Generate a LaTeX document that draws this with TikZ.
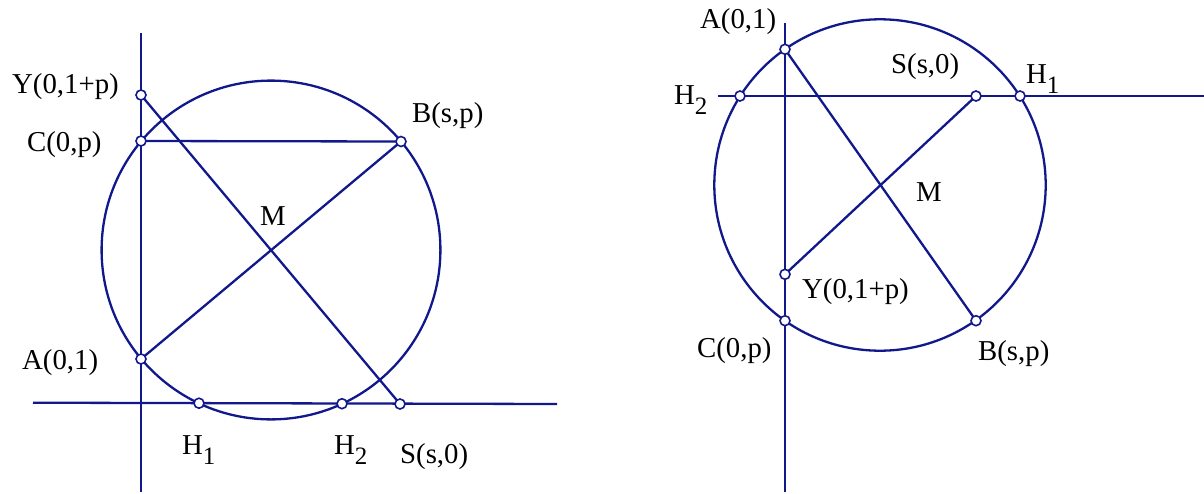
\documentclass[tikz,border=0pt]{standalone}
\usepackage{fontspec}
\setmainfont{Liberation Serif}
\usepackage{tikz}
\usetikzlibrary{positioning}
\definecolor{Navy}{HTML}{10188C}
\newcommand\lowidx[1]{\raisebox{-5pt}{\fontsize{12.5}{13}\selectfont #1}}

\begin{document}
\begin{tikzpicture}[x=0.5pt,y=-0.5pt,line width=1.15pt,draw=Navy,
  dot/.style={circle,draw=Navy,fill=white,line width=0.8pt,inner sep=0pt,minimum size=5pt},
  lbl/.style={inner sep=0pt,anchor=base west,font=\fontsize{14.4}{17}\selectfont}]
  \useasboundingbox (0,0) rectangle (1204,493);
  % left figure
  \coordinate (lyTop) at (141,33);  \coordinate (lyBot) at (141,492);
  \coordinate (lxLft) at (33,402.7); \coordinate (lxRgt) at (557,404);
  \coordinate (lY) at (141,95);  \coordinate (lC) at (141,141);
  \coordinate (lA) at (141,359); \coordinate (lB) at (401,141.5);
  \coordinate (lS) at (400,404); \coordinate (lH1) at (199,403.2);
  \coordinate (lH2) at (342,403.7); \coordinate (lM) at (271,250);
  \draw (lyTop) -- (lyBot); \draw (lxLft) -- (lxRgt);
  \draw (lM) circle (84.7pt);
  \draw (lC) -- (lB); \draw (lA) -- (lB); \draw (lY) -- (lS);
  \foreach \p in {lY,lC,lA,lB,lS,lH1,lH2} \node[dot] (d\p) at (\p) {};
  \node[lbl] (tlY) at (11,93) {Y(0,1+p)};
  \node[lbl] (tlC) at (26,151) {C(0,p)};
  \node[lbl] (tlB) at (411,122) {B(s,p)};
  \node[lbl] (tlM) at (259,225) {M};
  \node[lbl] (tlA) at (21,369) {A(0,1)};
  \node[lbl] (tlH1) at (181,454) {H\lowidx{1}};
  \node[lbl] (tlH2) at (333,454) {H\lowidx{2}};
  \node[lbl] (tlS) at (399,463) {S(s,0)};
  % right figure
  \coordinate (ryTop) at (785,23);  \coordinate (ryBot) at (785,492);
  \coordinate (rxLft) at (718,96);  \coordinate (rxRgt) at (1204,96);
  \coordinate (rA) at (785,49.3); \coordinate (rY) at (785,274.3);
  \coordinate (rC) at (785,320.7); \coordinate (rB) at (976,320.7);
  \coordinate (rS) at (976,96); \coordinate (rH1) at (1020,96);
  \coordinate (rH2) at (740,96); \coordinate (rM) at (880,185);
  \draw (ryTop) -- (ryBot); \draw (rxLft) -- (rxRgt);
  \draw (rM) circle (82.85pt);
  \draw (rA) -- (rB); \draw (rY) -- (rS);
  \foreach \p in {rA,rY,rC,rB,rS,rH1,rH2} \node[dot] (d\p) at (\p) {};
  \node[lbl] (trA) at (699,28) {A(0,1)};
  \node[lbl] (trS) at (890,73) {S(s,0)};
  \node[lbl] (trH1) at (1025,83) {H\lowidx{1}};
  \node[lbl] (trH2) at (673,104) {H\lowidx{2}};
  \node[lbl] (trM) at (915,201) {M};
  \node[lbl] (trY) at (801,298) {Y(0,1+p)};
  \node[lbl] (trC) at (696,357) {C(0,p)};
  \node[lbl] (trB) at (977,360) {B(s,p)};
\end{tikzpicture}
\end{document}
